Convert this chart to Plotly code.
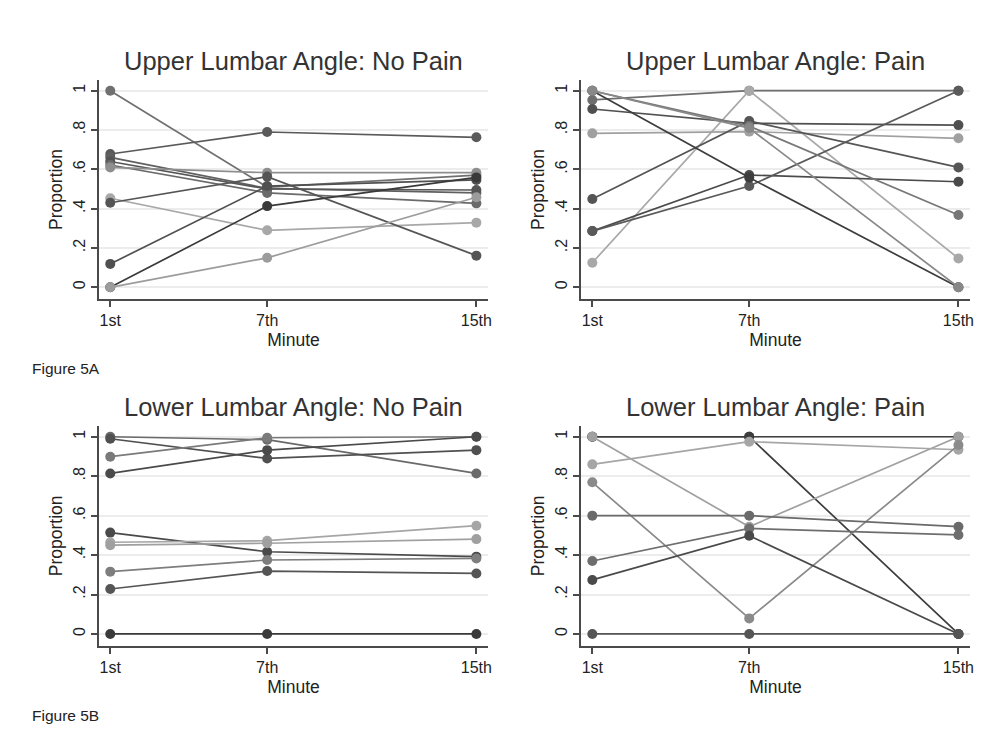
import plotly.graph_objects as go
from plotly.subplots import make_subplots

# Measurement minutes and their labels
minutes = [1, 7, 15]
minute_labels = ["1st", "7th", "15th"]
prop_ticks = [0, 0.2, 0.4, 0.6, 0.8, 1]
prop_labels = ["0", ".2", ".4", ".6", ".8", "1"]

# Proportions per subject (1st, 7th, 15th minute)
upper_no_pain = [
    [1.00, 0.51, 0.571],
    [0.678, 0.79, 0.763],
    [0.661, 0.503, 0.48],
    [0.64, 0.50, 0.495],
    [0.622, 0.48, 0.427],
    [0.61, 0.583, 0.583],
    [0.453, 0.29, 0.329],
    [0.43, 0.563, 0.161],
    [0.119, 0.515, 0.546],
    [0.0, 0.413, 0.559],
    [0.0, 0.15, 0.458],
]
upper_pain = [
    [0.953, 1.00, 1.00],
    [0.125, 1.00, 0.147],
    [0.907, 0.834, 0.825],
    [0.783, 0.792, 0.758],
    [0.449, 0.846, 0.61],
    [0.286, 0.571, 0.537],
    [0.286, 0.515, 1.00],
    [1.00, 0.558, 0.0],
    [1.00, 0.82, 0.368],
    [1.00, 0.81, 0.0],
]
lower_no_pain = [
    [1.00, 0.985, 0.814],
    [0.99, 0.89, 0.932],
    [0.899, 0.995, 1.00],
    [0.814, 0.932, 1.00],
    [0.514, 0.417, 0.392],
    [0.465, 0.473, 0.549],
    [0.45, 0.46, 0.481],
    [0.316, 0.375, 0.383],
    [0.228, 0.319, 0.307],
    [0.0, 0.0, 0.0],
]
lower_pain = [
    [1.00, 1.00, 1.00],
    [1.00, 1.00, 0.0],
    [1.00, 0.544, 1.00],
    [0.86, 0.975, 0.934],
    [0.769, 0.079, 0.958],
    [0.60, 0.60, 0.544],
    [0.37, 0.535, 0.502],
    [0.274, 0.498, 0.0],
    [0.0, 0.0, 0.0],
]

panel_titles = [
    "Upper Lumbar Angle: No Pain",
    "Upper Lumbar Angle: Pain",
    "Lower Lumbar Angle: No Pain",
    "Lower Lumbar Angle: Pain",
]

# Grey shade per subject line
upper_no_pain_colors = ["#707070", "#5a5a5a", "#606060", "#555555", "#6a6a6a",
                        "#8e8e8e", "#a8a8a8", "#555555", "#505050", "#3a3a3a", "#9c9c9c"]
upper_pain_colors = ["#6e6e6e", "#a8a8a8", "#505050", "#a0a0a0", "#555555",
                     "#4a4a4a", "#5a5a5a", "#3d3d3d", "#777777", "#888888"]
lower_no_pain_colors = ["#6a6a6a", "#505050", "#7a7a7a", "#4a4a4a", "#4a4a4a",
                        "#a6a6a6", "#a0a0a0", "#7e7e7e", "#555555", "#3a3a3a"]
lower_pain_colors = ["#404040", "#3d3d3d", "#a0a0a0", "#a6a6a6", "#8a8a8a",
                     "#6a6a6a", "#6e6e6e", "#4a4a4a", "#555555"]

panels = [
    (upper_no_pain, upper_no_pain_colors),
    (upper_pain, upper_pain_colors),
    (lower_no_pain, lower_no_pain_colors),
    (lower_pain, lower_pain_colors),
]

W, H = 1000, 730
# pixel boxes of each plot area: (left, right, top, bottom)
boxes = [
    (99.3, 490.0, 79.9, 299.1),
    (583.3, 974.0, 79.9, 299.1),
    (99.3, 490.0, 425.9, 645.8),
    (583.3, 974.0, 425.9, 645.8),
]

fig = make_subplots(rows=2, cols=2)

for idx, (series, colors) in enumerate(panels):
    r, c = idx // 2 + 1, idx % 2 + 1
    for vals, col in zip(series, colors):
        fig.add_trace(
            go.Scatter(
                x=minutes, y=vals, mode="lines+markers",
                line=dict(color=col, width=1.7),
                marker=dict(color=col, size=10),
                showlegend=False, hoverinfo="skip",
            ),
            row=r, col=c,
        )

font_family = "Liberation Sans, Arial, Helvetica, sans-serif"
axis_col = "#4a4a4a"
text_col = "#222222"

for idx, (l, rgt, t, b) in enumerate(boxes):
    n = "" if idx == 0 else str(idx + 1)
    fig.layout["xaxis" + n].update(
        domain=[l / W, rgt / W],
        range=[0.566, 15.446],
        tickvals=minutes, ticktext=minute_labels,
        showgrid=False, zeroline=False,
        showline=True, linecolor=axis_col, linewidth=1.5,
        ticks="outside", ticklen=6, tickwidth=1.5, tickcolor=axis_col,
        tickfont=dict(size=16, color=text_col, family=font_family),
        title=dict(text="Minute", font=dict(size=17.5, color=text_col, family=font_family),
                   standoff=6),
    )
    fig.layout["yaxis" + n].update(
        domain=[1 - b / H, 1 - t / H],
        range=[-0.06, 1.055],
        tickmode="array", tickvals=prop_ticks, ticktext=prop_labels,
        tickangle=270,
        showgrid=True, gridcolor="#ececec", gridwidth=1.5,
        zeroline=False,
        showline=True, linecolor=axis_col, linewidth=1.5,
        ticks="outside", ticklen=6, tickwidth=1.5, tickcolor=axis_col,
        tickfont=dict(size=16, color=text_col, family=font_family),
        title=dict(text="Proportion", font=dict(size=17.5, color=text_col, family=font_family),
                   standoff=4),
    )

annotations = []
for idx, (l, rgt, t, b) in enumerate(boxes):
    annotations.append(dict(
        text=panel_titles[idx], x=(l + rgt) / 2 / W, y=1 - (t - 18.5) / H,
        xref="paper", yref="paper", xanchor="center", yanchor="middle",
        showarrow=False, font=dict(size=25.5, color="#333333", family=font_family),
    ))
annotations.append(dict(text="Figure 5A", x=30 / W, y=1 - 368 / H, xref="paper", yref="paper",
                        xanchor="left", yanchor="middle", showarrow=False,
                        font=dict(size=15.5, color=text_col, family=font_family)))
annotations.append(dict(text="Figure 5B", x=30 / W, y=1 - 715 / H, xref="paper", yref="paper",
                        xanchor="left", yanchor="middle", showarrow=False,
                        font=dict(size=15.5, color=text_col, family=font_family)))

fig.update_layout(
    width=W, height=H,
    margin=dict(l=0, r=0, t=0, b=0),
    paper_bgcolor="white", plot_bgcolor="white",
    annotations=annotations,
    font=dict(family=font_family),
)

fig.write_html("out.html")
